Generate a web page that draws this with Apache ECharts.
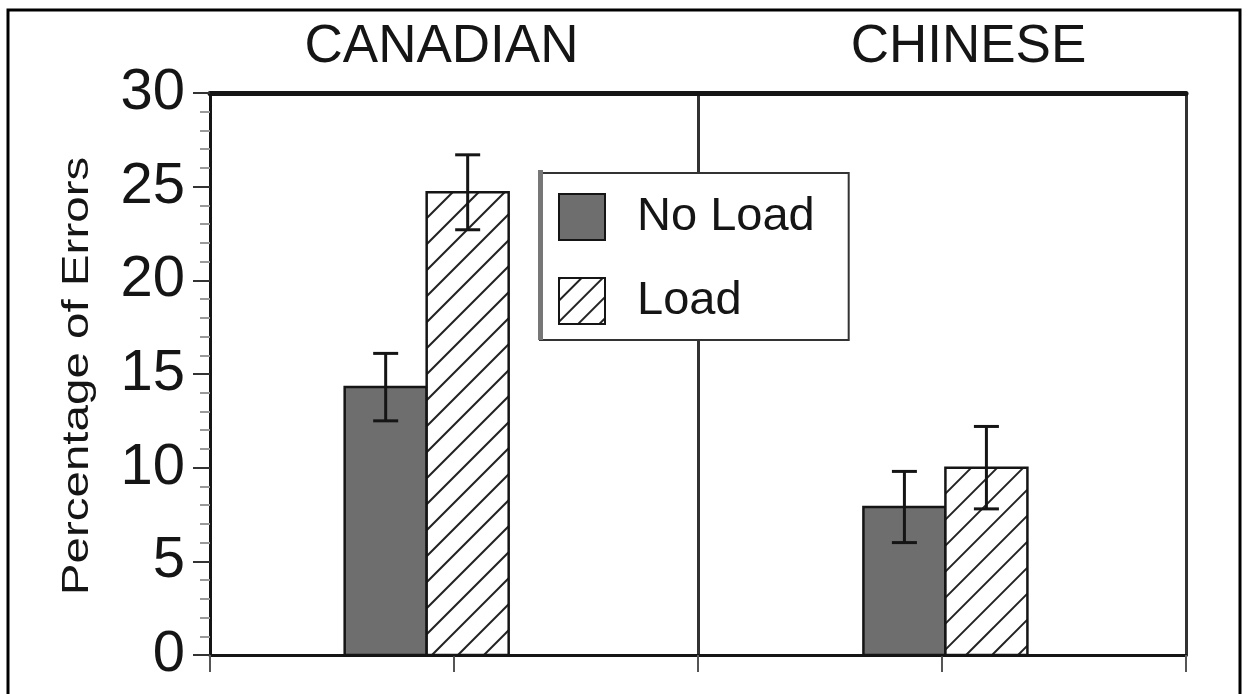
<!DOCTYPE html>
<html>
<head>
<meta charset="utf-8">
<script src="https://cdn.jsdelivr.net/npm/echarts@6/dist/echarts.min.js"></script>
<style>
html,body{margin:0;padding:0;background:#fff;}
#chart{width:1249px;height:694px;}
</style>
</head>
<body>
<div id="chart"></div>
<script>
// ---- data ----
const categories = ['CANADIAN', 'CHINESE'];
const seriesNames = ['No Load', 'Load'];
const noLoadValues = [14.3, 7.9];
const loadValues = [24.7, 10.0];
const noLoadErrors = [1.8, 1.9];
const loadErrors = [2.0, 2.2];
const yAxisTitle = 'Percentage of Errors';

// ---- style constants ----
const FONT = 'Liberation Sans';
const BAR_W = 82;
const GROUP_SHIFT = [-0.056, 0.007]; // fraction of category band
const HATCH_STEP = 26;
const DARK = '#6e6e6e';
const INK = '#151515';

function hatchLines(x0, y0, x1, y1) {
  const out = [];
  for (let c = x0 + y0 + HATCH_STEP; c < x1 + y1; c += HATCH_STEP) {
    const xa = Math.max(x0, c - y1);
    const xb = Math.min(x1, c - y0);
    if (xb > xa) {
      out.push({
        type: 'line',
        shape: { x1: xa, y1: c - xa, x2: xb, y2: c - xb },
        style: { stroke: '#222', lineWidth: 2 }
      });
    }
  }
  return out;
}

function makeRender(isLoad) {
  return function (params, api) {
    const ci = api.value(0), v = api.value(1), e = api.value(2);
    const band = api.size([1, 0])[0];
    const base = api.coord([ci, 0]);
    const top = api.coord([ci, v]);
    const center = base[0] + GROUP_SHIFT[ci] * band;
    const x0 = isLoad ? center : center - BAR_W;
    const x1 = x0 + BAR_W;
    const y0 = top[1], y1 = base[1];
    const children = [];
    children.push({ type: 'rect', shape: { x: x0, y: y0, width: BAR_W, height: y1 - y0 },
      style: { fill: isLoad ? '#fff' : DARK } });
    if (isLoad) children.push(...hatchLines(x0, y0, x1, y1));
    children.push({ type: 'rect', shape: { x: x0, y: y0, width: BAR_W, height: y1 - y0 },
      style: { fill: 'none', stroke: INK, lineWidth: 2.5 } });
    const ex = (x0 + x1) / 2;
    const eTop = api.coord([ci, v + e])[1];
    const eBot = api.coord([ci, v - e])[1];
    const cap = 12.5;
    const es = { stroke: INK, lineWidth: 3 };
    children.push({ type: 'line', shape: { x1: ex, y1: eTop, x2: ex, y2: eBot }, style: es });
    children.push({ type: 'line', shape: { x1: ex - cap, y1: eTop, x2: ex + cap, y2: eTop }, style: es });
    children.push({ type: 'line', shape: { x1: ex - cap, y1: eBot, x2: ex + cap, y2: eBot }, style: es });
    return { type: 'group', children };
  };
}

const chart = echarts.init(document.getElementById('chart'), null, { renderer: 'canvas' });

const option = {
  backgroundColor: '#fff',
  animation: false,
  textStyle: { fontFamily: FONT },
  grid: { left: 210, right: 63, top: 93, bottom: 39 },
  xAxis: [
    {
      type: 'value', position: 'bottom', min: 0, max: 4, interval: 1,
      axisLine: { show: true, onZero: false, lineStyle: { color: INK, width: 3 } },
      axisTick: { show: true, length: 17, lineStyle: { color: '#555', width: 2 } },
      axisLabel: { show: false },
      splitLine: { show: false }
    },
    {
      type: 'category', position: 'top', boundaryGap: true,
      data: [
        { value: categories[0], textStyle: { padding: [0, 25, 0, 0] } },
        { value: categories[1], textStyle: { padding: [0, 0, 0, 53] } }
      ],
      axisLine: { show: true, onZero: false, lineStyle: { color: INK, width: 5 } },
      axisTick: { show: false },
      axisLabel: { fontSize: 53, margin: 19, color: INK, fontFamily: FONT },
      splitLine: { show: true, lineStyle: { color: '#333', width: 3 } }
    }
  ],
  yAxis: [
    {
      type: 'value', min: 0, max: 30, interval: 5,
      axisLine: { show: true, onZero: false, lineStyle: { color: INK, width: 3 } },
      axisTick: { show: true, length: 17, lineStyle: { color: '#333', width: 2 } },
      minorTick: { show: true, splitNumber: 5, length: 10, lineStyle: { color: '#999', width: 2 } },
      axisLabel: { fontSize: 58, margin: 25, color: INK, fontFamily: FONT, padding: [0, 0, 13, 0] },
      splitLine: { show: false }
    },
    {
      type: 'value', position: 'right', min: 0, max: 30, interval: 5,
      axisLine: { show: true, onZero: false, lineStyle: { color: '#333', width: 3 } },
      axisTick: { show: false }, axisLabel: { show: false }, splitLine: { show: false }
    }
  ],
  legend: {
    data: [
      { name: seriesNames[0], icon: 'rect', itemStyle: { color: DARK, borderColor: INK, borderWidth: 2 } },
      { name: seriesNames[1], icon: 'rect', itemStyle: { color: '#fff', borderColor: INK, borderWidth: 2,
        decal: { symbol: 'rect', symbolSize: 1, dashArrayX: [1, 0], dashArrayY: [2, 13], rotation: -Math.PI / 4, color: '#222', backgroundColor: '#fff' } } }
    ],
    orient: 'vertical', left: 540, top: 173,
    itemWidth: 46, itemHeight: 46, itemGap: 36,
    padding: [20, 34, 15, 18],
    backgroundColor: '#fff', borderColor: '#333', borderWidth: 2,
    selectedMode: false,
    textStyle: { fontSize: 47, color: INK, fontFamily: FONT, padding: [0, 0, 0, 27] }
  },
  graphic: [
    { type: 'rect', shape: { x: 8, y: 10, width: 1232, height: 700 },
      style: { fill: 'none', stroke: '#000', lineWidth: 3 }, z: 100 },
    { type: 'rect', shape: { x: 538, y: 170, width: 5, height: 170 },
      style: { fill: '#777' }, z: 100 },
    { type: 'text', x: 78, y: 376, rotation: Math.PI / 2, scaleX: 1.32,
      style: { text: yAxisTitle, fontSize: 36, fontFamily: FONT, fill: INK, align: 'center', verticalAlign: 'middle' } }
  ],
  series: [
    {
      name: seriesNames[0], type: 'custom', xAxisIndex: 1, yAxisIndex: 0,
      itemStyle: { color: DARK },
      renderItem: makeRender(false),
      data: categories.map((c, i) => [i, noLoadValues[i], noLoadErrors[i]]),
      z: 3
    },
    {
      name: seriesNames[1], type: 'custom', xAxisIndex: 1, yAxisIndex: 0,
      itemStyle: { color: '#fff' },
      renderItem: makeRender(true),
      data: categories.map((c, i) => [i, loadValues[i], loadErrors[i]]),
      z: 3
    }
  ]
};
chart.setOption(option);
</script>
</body>
</html>
